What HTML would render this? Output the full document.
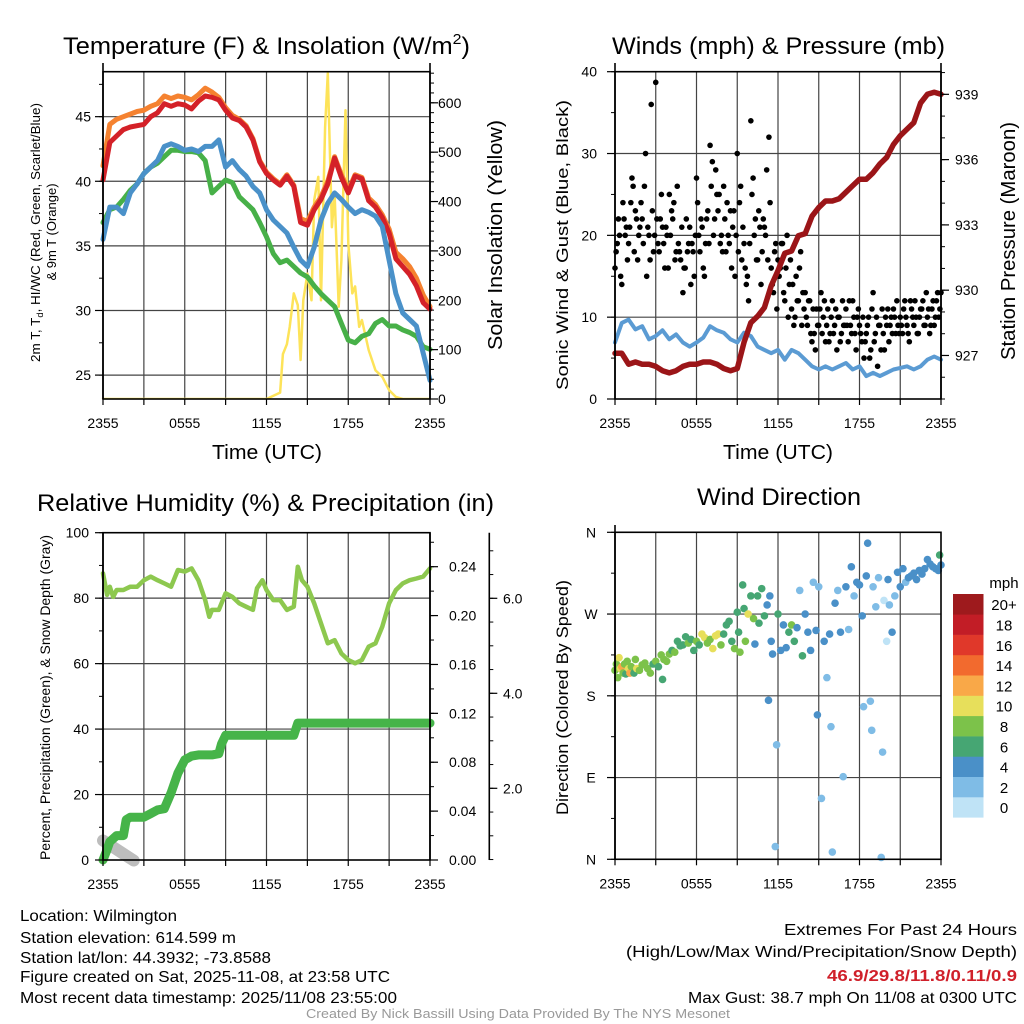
<!DOCTYPE html>
<html><head><meta charset="utf-8"><title>NYS Mesonet Meteogram - Wilmington</title>
<style>
html,body{margin:0;padding:0;background:#fff;}
svg{display:block;font-family:"Liberation Sans",Arial,sans-serif;}
</style></head>
<body>
<svg id="fig" width="1024" height="1024" viewBox="0 0 1024 1024" xmlns="http://www.w3.org/2000/svg">
<rect width="1024" height="1024" fill="#fff"/>
<g id="layer"></g>
<!-- titles -->
<text x="63" y="54" font-size="24" textLength="407" lengthAdjust="spacingAndGlyphs">Temperature (F) &amp; Insolation (W/m<tspan dy="-10" font-size="15">2</tspan><tspan dy="10">)</tspan></text>
<text x="612" y="54" font-size="24" textLength="333" lengthAdjust="spacingAndGlyphs">Winds (mph) &amp; Pressure (mb)</text>
<text x="37" y="511" font-size="24" textLength="457" lengthAdjust="spacingAndGlyphs">Relative Humidity (%) &amp; Precipitation (in)</text>
<text x="697" y="505" font-size="24" textLength="164" lengthAdjust="spacingAndGlyphs">Wind Direction</text>
<text x="212" y="459" font-size="20" textLength="110" lengthAdjust="spacingAndGlyphs">Time (UTC)</text>
<text x="723" y="459" font-size="20" textLength="110" lengthAdjust="spacingAndGlyphs">Time (UTC)</text>
<text transform="translate(40,362) rotate(-90)" font-size="13" textLength="259" lengthAdjust="spacingAndGlyphs">2m T, T<tspan dy="3" font-size="9">d</tspan><tspan dy="-3">, HI/WC (Red, Green, Scarlet/Blue)</tspan></text>
<text transform="translate(56,232) rotate(-90)" font-size="13" text-anchor="middle">&amp; 9m T (Orange)</text>
<text transform="translate(502,350) rotate(-90)" font-size="20" textLength="230" lengthAdjust="spacingAndGlyphs">Solar Insolation (Yellow)</text>
<text transform="translate(568,390) rotate(-90)" font-size="17" textLength="290" lengthAdjust="spacingAndGlyphs">Sonic Wind &amp; Gust (Blue, Black)</text>
<text transform="translate(1015,360) rotate(-90)" font-size="20" textLength="238" lengthAdjust="spacingAndGlyphs">Station Pressure (Maroon)</text>
<text transform="translate(50,860) rotate(-90)" font-size="13.5" textLength="325" lengthAdjust="spacingAndGlyphs">Percent, Precipitation (Green), &amp; Snow Depth (Gray)</text>
<text transform="translate(568,815) rotate(-90)" font-size="17" textLength="235" lengthAdjust="spacingAndGlyphs">Direction (Colored By Speed)</text>
<!-- footer -->
<g font-size="16">
<text x="20" y="921" textLength="157" lengthAdjust="spacingAndGlyphs">Location: Wilmington</text>
<text x="20" y="943" textLength="216" lengthAdjust="spacingAndGlyphs">Station elevation: 614.599 m</text>
<text x="20" y="963" textLength="251" lengthAdjust="spacingAndGlyphs">Station lat/lon: 44.3932; -73.8588</text>
<text x="20" y="982" textLength="370" lengthAdjust="spacingAndGlyphs">Figure created on Sat, 2025-11-08, at 23:58 UTC</text>
<text x="20" y="1003" textLength="377" lengthAdjust="spacingAndGlyphs">Most recent data timestamp: 2025/11/08 23:55:00</text>
</g>
<g font-size="16">
<text x="784" y="935" textLength="233" lengthAdjust="spacingAndGlyphs">Extremes For Past 24 Hours</text>
<text x="626" y="957" textLength="391" lengthAdjust="spacingAndGlyphs">(High/Low/Max Wind/Precipitation/Snow Depth)</text>
<text x="827" y="981" fill="#d0202a" font-weight="bold" textLength="190" lengthAdjust="spacingAndGlyphs">46.9/29.8/11.8/0.11/0.9</text>
<text x="688" y="1003" textLength="329" lengthAdjust="spacingAndGlyphs">Max Gust: 38.7 mph On 11/08 at 0300 UTC</text>
</g>
<text x="306" y="1018" font-size="13" fill="#999" textLength="424" lengthAdjust="spacingAndGlyphs">Created By Nick Bassill Using Data Provided By The NYS Mesonet</text>
</svg>
<script>
// ---------- data ----------
const hours = [0,0.5,1,1.5,2,2.5,3,3.5,4,4.5,5,5.5,6,6.5,7,7.5,8,8.5,9,9.5,10,10.5,11,11.5,12,12.5,13,13.5,14,14.5,15,15.5,16,16.5,17,17.5,18,18.5,19,19.5,20,20.5,21,21.5,22,22.5,23,23.5,24];
const tempRed = [40.1,43.0,43.5,44.0,44.2,44.3,44.4,45.0,45.3,46.0,45.8,46.0,45.9,45.6,46.2,46.6,46.5,46.3,45.5,44.9,44.7,44.2,43.2,41.5,40.6,40.1,39.7,40.4,39.6,36.8,36.6,37.8,38.6,39.8,41.8,40.3,39.1,40.4,40.2,38.5,38.0,37.2,36.0,34.0,33.4,32.8,31.9,30.6,30.1];
const tempOrange = [41.2,44.4,44.8,45.0,45.2,45.4,45.5,45.8,46.0,46.6,46.4,46.6,46.5,46.3,46.7,47.2,46.9,46.5,45.7,45.1,44.8,44.3,43.3,41.6,40.7,40.2,39.8,40.5,39.7,37.1,36.9,38.0,38.8,40.0,41.9,40.5,39.3,40.5,40.3,38.7,38.2,37.4,36.3,34.5,34.0,33.4,32.5,31.2,30.3];
const tempGreen = [36.8,37.8,38.0,38.6,39.3,39.8,40.6,41.1,41.4,41.9,42.4,42.4,42.3,42.3,42.2,41.6,39.1,39.6,40.1,39.9,38.8,38.3,37.8,36.8,35.7,34.4,33.7,33.9,33.4,32.9,32.6,31.9,31.3,30.8,30.3,29.0,27.7,27.5,28.0,28.2,29.0,29.3,28.8,28.8,28.5,28.3,28.0,27.2,27.0];
const tempBlue = [35.5,38.0,38.0,37.5,39.1,39.8,40.6,41.1,41.6,42.7,42.9,42.7,42.4,42.5,42.3,42.7,42.7,43.2,41.1,41.6,40.9,40.4,39.6,39.1,37.8,37.0,36.5,36.0,34.9,33.9,33.4,34.9,37.0,38.3,39.1,38.6,38.0,37.5,37.8,37.6,37.3,36.5,33.9,31.3,29.8,29.3,28.8,26.7,24.6];
const insolHours = [0,12,13,13.2,13.5,13.7,14,14.3,14.5,14.7,15,15.3,15.5,15.8,16,16.3,16.5,16.8,17,17.3,17.5,17.8,18,18.3,18.5,18.8,19,19.5,20,20.5,21,21.5,22,24];
const insolVals = [0,0,13,91,111,146,214,190,79,200,254,200,403,450,200,551,660,348,416,187,281,585,315,214,228,146,160,99,58,45,18,4,0,0];
const pressure = [927.1,927.1,926.6,926.7,926.6,926.6,926.5,926.3,926.2,926.3,926.5,926.6,926.6,926.7,926.7,926.6,926.4,926.3,926.4,927.6,928.5,928.8,929.2,930.2,930.9,931.7,931.8,932.5,932.6,933.4,933.8,934.1,934.1,934.2,934.5,934.8,935.1,935.1,935.4,935.8,936.1,936.7,937.1,937.4,937.7,938.6,939.0,939.1,939.0];
const windSpeed = [6.9,9.3,9.7,8.5,8.9,7.3,7.7,8.4,7.3,7.9,6.9,6.4,6.9,7.5,8.9,8.4,8.1,7.3,6.9,8.1,7.7,6.4,6.0,5.6,6.0,4.8,6.0,5.6,4.8,4.0,3.6,4.0,3.6,4.0,4.4,3.6,4.0,2.8,3.2,2.8,3.2,3.6,3.8,4.0,3.6,4.0,4.8,5.2,4.8];
const gusts = [16,19,20,14,22,21, 19,24,26,23,17,21, 22,26,15,20,36,18, 38.7,19,22,21,16,20, 25,23,24,18,19,17, 13,16,18,21,19,15, 27,20,22,16,19,23, 31,29,22,25,25,20, 26,18,20,23,21,15, 30,24,17,19,14,12, 34,27,22,17,21,18, 21,28,32,16,13,19, 17,16,19,12,20,14, 11,9,15,12,18,13, 13,9,12,7,8,11, 9,13,10,7,11,8, 12,9,6,10,8,9, 11,7,9,12,8,10, 9,7,5,8,10,6, 13,8,4,9,11,6, 9,7,10,11,8,9, 10,8,12,9,7,11, 9,10,8,11,12,9, 10,8,11,9,12,10, 13];
const gustsB = [18,22,15,24,20,17, 21,27,18,22,20,24, 19,30,21,17,23,20, 22,18,25,19,21,16, 20,22,17,26,18,21, 16,22,19,14,18,20, 24,18,21,15,22,19, 26,20,28,23,19,18, 22,24,19,16,23,20, 18,26,21,16,15,19, 25,20,17,23,14,22, 20,17,24,14,18,11, 15,19,13,16,10,17, 14,10,12,16,9,11, 10,12,8,11,6,9, 11,8,12,9,7,10, 8,11,10,7,12,9, 9,12,8,10,6,11, 8,10,7,9,5,11, 7,10,9,6,8,10, 11,9,8,10,12,8, 9,11,10,8,12,10, 12,8,10,11,9,13, 11,9,12,10,13,11];
const rhHours = [0,0.3,0.5,0.75,1,1.5,2,2.5,3,3.5,4,4.5,5,5.5,6,6.5,7,7.5,7.8,8,8.5,9,9.5,10,10.5,11,11.3,11.7,12,12.5,13,13.5,14,14.3,14.6,15,15.5,16,16.5,17,17.5,18,18.5,19,19.5,20,20.5,21,21.5,22,22.5,23,23.5,24];
const rhVals = [87.6,81,83.5,80.4,82.5,82.5,83.5,83.5,85.5,86.6,85.5,84.5,83.5,88.6,88.1,89.1,85.5,79.4,74.3,76.4,76.4,81.5,80.4,78.4,77.4,76.4,83,85.5,82.5,79.4,79.4,76.4,77.4,89.6,85.5,83.5,78.4,72.3,66.2,67.2,63.1,61.1,60.1,61.1,65.2,66.2,71.3,78.4,82.5,84.5,85.5,86,86.6,89.1];
const precipHours = [0,0.25,0.5,1,1.5,1.7,2,3,3.5,4,4.5,5,5.5,6,6.5,7,8,8.5,8.7,9,14,14.3,14.5,24];
const precipVals = [0,0.007,0.015,0.020,0.020,0.033,0.035,0.035,0.038,0.041,0.042,0.055,0.071,0.082,0.085,0.086,0.086,0.087,0.095,0.102,0.102,0.112,0.112,0.112];
const snowHours = [0,2.25];
const snowVals = [0.9,0.48];
const dirHours = [0,0.1,0.2,0.3,0.4,0.5,0.6,0.7,0.8,0.9,1.0,1.1,1.2,1.4,1.5,1.6,1.8,2.0,2.2,2.4,2.6,2.8,3.0,3.2,3.4,3.5,3.6,3.8,4.0,4.2,4.4,4.6,4.8,5.0,5.2,5.4,5.6,5.8,6.0,6.2,6.4,6.6,6.8,7.0,7.2,7.4,7.6,7.8,8.0,8.2,8.4,8.6,8.8,9.0,9.1,9.2,9.4,9.5,9.6,9.8,10.0,10.2,10.3,10.5,10.6,10.8,11.0,11.2,11.3,11.4,11.5,11.6,11.8,11.9,12.0,12.2,12.4,12.6,12.8,13.0,13.2,13.4,13.6,13.8,14.0,14.2,14.4,14.6,14.8,14.9,15.0,15.2,15.4,15.6,15.8,15.9,16.0,16.2,16.4,16.6,16.8,17.0,17.2,17.4,17.6,17.8,18.0,18.2,18.3,18.5,18.6,18.8,18.9,19.0,19.2,19.4,19.6,19.7,19.8,20.0,20.1,20.2,20.4,20.6,20.8,21.0,21.2,21.4,21.6,21.8,22.0,22.2,22.4,22.6,22.8,23.0,23.2,23.4,23.6,23.8,23.9,24.0];
const dirDeg = [208,215,200,222,210,212,205,215,204,218,210,205,212,205,220,210,208,214,216,210,205,215,218,212,225,198,220,218,226,230,228,240,235,236,245,238,242,230,240,236,248,244,238,242,232,246,248,236,248,258,262,240,232,272,250,228,302,276,240,270,290,265,237,290,260,298,268,280,175,290,240,226,14,126,270,230,258,233,250,258,240,255,296,224,270,250,230,305,252,159,300,67,240,200,248,146,8,282,296,250,91,300,253,322,290,305,302,268,168,312,348,174,142,300,278,310,2,118,285,240,308,280,250,290,316,300,320,305,310,312,315,308,318,314,320,330,325,322,320,318,335,324];
const dirSpeed = [7,8,7,10,9,11,8,7,6,8,9,12,8,6,8,10,8,8,7,8,8,6,8,6,8,6,7,8,7,6,8,6,6,6,6,7,6,6,7,6,10,10,8,8,10,9,10,7,6,6,6,6,8,6,6,7,6,6,7,10,6,8,4,6,6,6,6,4,4,4,4,4,2,2,6,4,4,4,6,8,6,4,2,6,4,4,4,2,4,4,2,2,4,2,4,2,2,4,2,4,2,4,2,4,2,4,4,4,2,4,4,2,2,2,2,2,2,2,0,0,4,2,4,2,4,4,4,2,4,4,4,4,4,4,4,4,4,4,4,4,6,4];
const cbarLabels = ["0","2","4","6","8","10","12","14","16","18","20+"];
const cbarColors = ["#bfe3f6","#7fbce6","#4a90c8","#46a673","#7cc24a","#e7df5b","#f9a848","#f26a2e","#e0382a","#c21d26","#9e1a1d"];

// ---------- helpers ----------
const NS = "http://www.w3.org/2000/svg";
const layer = document.getElementById("layer");
function mk(tag, attrs, parent) {
  const el = document.createElementNS(NS, tag);
  for (const k in attrs) el.setAttribute(k, attrs[k]);
  (parent || layer).appendChild(el);
  return el;
}
function lin(d0, d1, r0, r1) { return v => r0 + (v - d0) * (r1 - r0) / (d1 - d0); }
function pathD(xs, ys, fx, fy) {
  return xs.map((h, i) => (i ? "L" : "M") + fx(h).toFixed(1) + "," + fy(ys[i]).toFixed(1)).join("");
}
const timeLabels = ["2355","0555","1155","1755","2355"];

function drawFrame(P, name, hGrid, fyGrid) {
  const g = mk("g", {});
  
  
  for (let k = 1; k < 8; k++) {
    const x = P.x0 + k * (P.x1 - P.x0) / 8;
    const l = mk("line", {x1: x, x2: x, y1: P.y0, y2: P.y1, stroke: "#444", "stroke-width": 1.2}, g);
    
    
  }
  hGrid.forEach(v => {
    const y = fyGrid(v);
    const l = mk("line", {x1: P.x0, x2: P.x1, y1: y, y2: y, stroke: "#444", "stroke-width": 1.2}, g);
    
    
  });
}
function drawBox(P, name) {
  const r = mk("rect", {x: P.x0, y: P.y0, width: P.x1 - P.x0, height: P.y1 - P.y0, fill: "none", stroke: "#000", "stroke-width": 1.6});
  
  
  const g = mk("g", {});
  
  
  for (let k = 0; k <= 8; k++) {
    const x = P.x0 + k * (P.x1 - P.x0) / 8;
    mk("line", {x1: x, x2: x, y1: P.y1, y2: P.y1 + 6, stroke: "#000", "stroke-width": 1.2}, g);
  }
  timeLabels.forEach((t, i) => {
    const x = P.x0 + i * (P.x1 - P.x0) / 4;
    const tx = mk("text", {x: x, y: P.y1 + 29, "font-size": 14, "text-anchor": "middle"}, g);
    
    
    tx.textContent = t;
  });
}
function yAxis(name, x, yTop, yBot, side, majors, labels, minors, fy, labelX, anchor) {
  const g = mk("g", {});
  
  
  mk("line", {x1: x, x2: x, y1: yTop, y2: yBot, stroke: "#000", "stroke-width": 1.6}, g);
  const dir = side === "left" ? -1 : 1;
  minors.forEach(v => { const y = fy(v); mk("line", {x1: x, x2: x + dir * 4, y1: y, y2: y, stroke: "#000", "stroke-width": 1}, g); });
  majors.forEach((v, i) => {
    const y = fy(v);
    mk("line", {x1: x, x2: x + dir * 8, y1: y, y2: y, stroke: "#000", "stroke-width": 1.2}, g);
    const t = mk("text", {x: labelX, y: y + 5, "font-size": 14, "text-anchor": anchor}, g);
    
    
    t.textContent = labels[i];
  });
}
function range(a, b, s) { const r = []; for (let v = a; v <= b + 1e-9; v += s) r.push(+v.toFixed(4)); return r; }

// ---------- panel 1: temperature ----------
const P1 = {x0: 103, x1: 430, y0: 71.7, y1: 399};
const fx1 = lin(0, 24, P1.x0, P1.x1);
const fyT = lin(23.15, 48.48, P1.y1, P1.y0);
const fyS = lin(0, 663, P1.y1, P1.y0);
drawFrame(P1, "temperature", [25, 30, 35, 40, 45], fyT);
const clip1 = mk("clipPath", {id: "c1"}); mk("rect", {x: P1.x0 - 4, y: P1.y0 - 4, width: P1.x1 - P1.x0 + 8, height: P1.y1 - P1.y0 + 4}, clip1);
const s1 = mk("g", {"clip-path": "url(#c1)", fill: "none", "stroke-linejoin": "round", "stroke-linecap": "round"});
let p;
p = mk("path", {d: pathD(insolHours, insolVals, fx1, fyS), stroke: "#fde359", "stroke-width": 2.5}, s1);
 
p = mk("path", {d: pathD(hours, tempGreen, fx1, fyT), stroke: "#47b048", "stroke-width": 5}, s1);
 
p = mk("path", {d: pathD(hours, tempOrange, fx1, fyT), stroke: "#f58230", "stroke-width": 5}, s1);
 
p = mk("path", {d: pathD(hours, tempRed, fx1, fyT), stroke: "#d42128", "stroke-width": 5}, s1);
 
p = mk("path", {d: pathD(hours, tempBlue, fx1, fyT), stroke: "#4a91c9", "stroke-width": 5}, s1);
 
drawBox(P1, "temperature");
yAxis("temperature-left-axis", P1.x0, 63, P1.y1, "left", [25,30,35,40,45], ["25","30","35","40","45"], range(22.5, 47.5, 2.5).filter(v => fyT(v) >= 63 && fyT(v) <= P1.y1), fyT, 91, "end");
yAxis("insolation-right-axis", P1.x1, 63, P1.y1, "right", [0,100,200,300,400,500,600], ["0","100","200","300","400","500","600"], range(0, 660, 20), fyS, 438, "start");

// ---------- panel 2: winds ----------
const P2 = {x0: 615, x1: 941, y0: 71.7, y1: 399};
const fx2 = lin(0, 24, P2.x0, P2.x1);
const fyW = lin(0, 40, P2.y1, P2.y0);
const fyP = lin(925, 940.04, P2.y1, P2.y0);
drawFrame(P2, "winds", [10, 20, 30], fyW);
const s2 = mk("g", {"stroke-linejoin": "round", "stroke-linecap": "round"});
p = mk("path", {d: pathD(hours, windSpeed, fx2, fyW), stroke: "#5b9bd3", "stroke-width": 4, fill: "none"}, s2);
 
const gustG = mk("g", {fill: "#000"}, s2);
 
gusts.forEach((v, i) => {
  const c = mk("circle", {cx: fx2(i / 6), cy: fyW(v), r: 2.8}, gustG);
  
  
});
gustsB.forEach((v, i) => {
  const c = mk("circle", {cx: fx2((i + 0.5) / 6), cy: fyW(v), r: 2.8}, gustG);
  
  
});
p = mk("path", {d: pathD(hours, pressure, fx2, fyP), stroke: "#9b1518", "stroke-width": 5.5, fill: "none"}, s2);
 
drawBox(P2, "winds");
yAxis("wind-left-axis", P2.x0, 63, P2.y1, "left", [0,10,20,30,40], ["0","10","20","30","40"], range(0, 40, 5), fyW, 597, "end");
yAxis("pressure-right-axis", P2.x1, 63, P2.y1, "right", [927,930,933,936,939], ["927","930","933","936","939"], range(925, 940, 1), fyP, 955, "start");

// ---------- panel 3: humidity ----------
const P3 = {x0: 103, x1: 430, y0: 532.7, y1: 860};
const fx3 = lin(0, 24, P3.x0, P3.x1);
const fyR = lin(0, 100, P3.y1, P3.y0);
const fyPr = lin(0, 0.24, P3.y1, 566.7);
const fySn = lin(0, 2, 883.3, 788.3);
drawFrame(P3, "humidity", [20, 40, 60, 80], fyR);
const s3 = mk("g", {fill: "none", "stroke-linejoin": "round", "stroke-linecap": "round"});
p = mk("path", {d: pathD(snowHours, snowVals, fx3, fySn), stroke: "#bdbdbd", "stroke-width": 12}, s3);
 
p = mk("path", {d: pathD(rhHours, rhVals, fx3, fyR), stroke: "#8dc84f", "stroke-width": 4.5}, s3);
 
p = mk("path", {d: pathD(precipHours, precipVals, fx3, fyPr), stroke: "#46b449", "stroke-width": 9}, s3);
 
drawBox(P3, "humidity");
yAxis("humidity-left-axis", P3.x0, P3.y0, P3.y1, "left", [0,20,40,60,80,100], ["0","20","40","60","80","100"], range(0, 100, 10), fyR, 89, "end");
yAxis("precip-right-axis", P3.x1, P3.y0, P3.y1, "right", [0,0.04,0.08,0.12,0.16,0.2,0.24], ["0.00","0.04","0.08","0.12","0.16","0.20","0.24"], range(0, 0.26, 0.02), fyPr, 449, "start");
yAxis("snow-depth-axis", 489.3, P3.y0, P3.y1, "right", [2,4,6], ["2.0","4.0","6.0"], range(0.5, 7, 0.5).filter(v => fySn(v) >= P3.y0 && fySn(v) <= P3.y1), fySn, 503, "start");

// ---------- panel 4: wind direction ----------
const P4 = {x0: 615, x1: 941, y0: 532.3, y1: 859.3};
const fx4 = lin(0, 24, P4.x0, P4.x1);
const fyD = lin(0, 360, P4.y1, P4.y0);
drawFrame(P4, "direction", [90, 180, 270], fyD);
const dirG = mk("g", {});
 
dirHours.forEach((h, i) => {
  const idx = Math.max(0, Math.min(10, Math.round(dirSpeed[i] / 2)));
  const c = mk("circle", {cx: fx4(h), cy: fyD(dirDeg[i]), r: 3.8, fill: cbarColors[idx]}, dirG);
  
  
});
drawBox(P4, "direction");
yAxis("direction-left-axis", P4.x0, 525, P4.y1, "left", [0,90,180,270,360], ["N","E","S","W","N"], range(0, 360, 45), fyD, 591, "middle");

// colorbar
const cb = mk("g", {});
 
const cbTop = 594, cbH = 20.3;
cbarLabels.forEach((lab, i) => {
  const y = cbTop + (10 - i) * cbH;
  const r = mk("rect", {x: 953, y: y, width: 30.5, height: cbH + 0.3, fill: cbarColors[i]}, cb);
  
  
  const t = mk("text", {x: 1004, y: y + cbH / 2 + 6, "font-size": 15, "text-anchor": "middle"}, cb);
  
  
  t.textContent = lab;
});
const mph = mk("text", {x: 1004, y: 588, "font-size": 15, "text-anchor": "middle"}, cb);


mph.textContent = "mph";
</script>
</body></html>
